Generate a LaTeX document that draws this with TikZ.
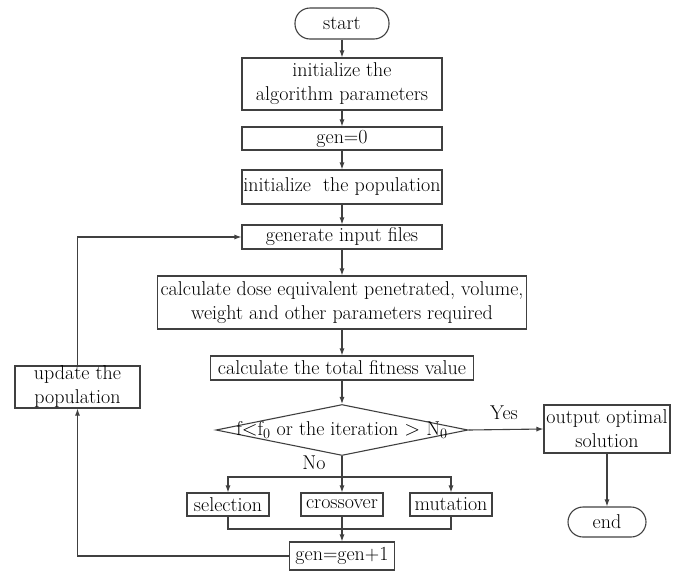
\documentclass[tikz,border=0pt]{standalone}
\usepackage{tikz}
\usetikzlibrary{arrows.meta,shapes.geometric}

\begin{document}
\begin{tikzpicture}[x=1pt,y=-1pt,>={Latex[length=7pt,width=5pt]}]
	\tikzstyle{box}=[rectangle,draw=black!75,line width=1.1pt,inner sep=0pt,align=center,font=\fontsize{20}{24}\selectfont]
	\tikzstyle{term}=[box,rounded corners=15pt]
	\tikzstyle{lbl}=[inner sep=0pt,font=\fontsize{20}{24}\selectfont]
	\tikzstyle{line}=[draw=black!75,line width=1.1pt]
	\useasboundingbox (0,0) rectangle (678,571);
	\node[term,minimum width=94pt,minimum height=31pt] (start) at (342,23.5) {start};
	\node[box,minimum width=200pt,minimum height=52pt] (init) at (342,84) {initialize the\\algorithm parameters};
	\node[box,minimum width=200pt,minimum height=23pt] (gen0) at (342,138.5) {gen=0};
	\node[box,minimum width=200pt,minimum height=34pt] (initpop) at (342,187) {initialize\ \ the population};
	\node[box,minimum width=200pt,minimum height=24pt] (geninput) at (342,237) {generate input files};
	\node[box,minimum width=369pt,minimum height=53pt] (calcdose) at (342,302.5) {calculate dose equivalent penetrated, volume,\\weight and other parameters required};
	\node[box,minimum width=263pt,minimum height=24pt] (fitness) at (342,368) {calculate the total fitness value};
	\node[diamond,draw=black!75,line width=1.1pt,inner sep=0pt,minimum width=252pt,minimum height=51pt] (dec) at (342,430) {};
	\node[lbl] (dectext) at (dec.center) {f$<$f$_0$ or the iteration $>$ N$_0$};
	\node[box,minimum width=126pt,minimum height=48pt] (output) at (607,429) {output optimal\\solution};
	\node[term,minimum width=78pt,minimum height=30pt] (end) at (607,522) {end};
	\node[box,minimum width=82pt,minimum height=23pt] (selection) at (228,504.5) {selection};
	\node[box,minimum width=82pt,minimum height=23pt] (crossover) at (342,504.5) {crossover};
	\node[box,minimum width=82pt,minimum height=23pt] (mutation) at (451,504.5) {mutation};
	\node[box,minimum width=105pt,minimum height=28pt] (gen1) at (342,556) {gen=gen+1};
	\node[box,minimum width=125pt,minimum height=42pt] (update) at (77.5,387) {update the\\population};
	\node[lbl] (yes) at (504,413) {Yes};
	\node[lbl] (no) at (314,463) {No};
	\coordinate (split) at (342,477);
	\coordinate (merge) at (342,529);
	\draw[line,->] (start) -- (init);
	\draw[line,->] (init) -- (gen0);
	\draw[line,->] (gen0) -- (initpop);
	\draw[line,->] (initpop) -- (geninput);
	\draw[line,->] (geninput) -- (calcdose);
	\draw[line,->] (calcdose) -- (fitness);
	\draw[line,->] (fitness) -- (dec);
	\draw[line,->] (dec.east) -- (output.west);
	\draw[line,->] (output) -- (end);
	\draw[line,->] (dec.south) -- (crossover);
	\draw[line,->] (split) -| (selection);
	\draw[line,->] (split) -| (mutation);
	\draw[line] (selection.south) |- (merge) -| (mutation.south);
	\draw[line,->] (crossover) -- (gen1);
	\draw[line,->] (gen1.west) -| (update.south);
	\draw[line,->] (update.north) |- (geninput.west);
\end{tikzpicture}
\end{document}
